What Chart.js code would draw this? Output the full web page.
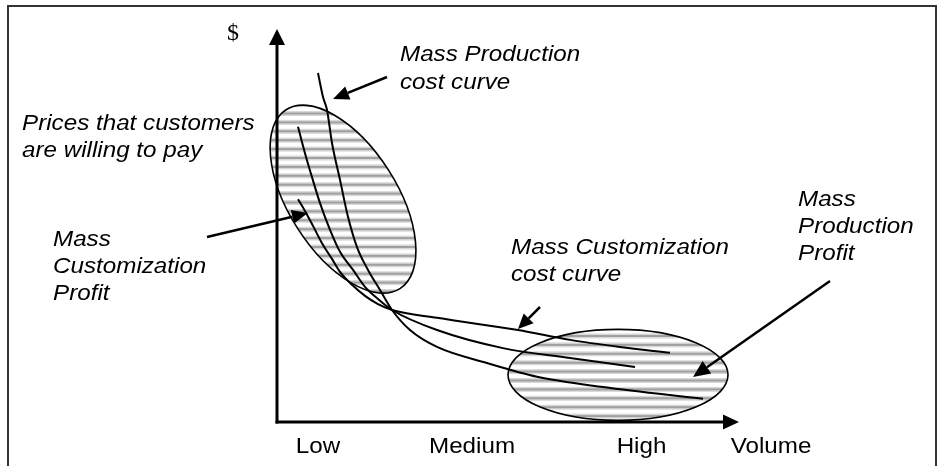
<!DOCTYPE html>
<html>
<head>
<meta charset="utf-8">
<script src="https://cdn.jsdelivr.net/npm/chart.js@4"></script>
<style>
  body { margin: 0; background: #fff; }
  #wrap { width: 940px; height: 466px; position: relative; }
</style>
</head>
<body>
<div id="wrap"><canvas id="mc_chart"></canvas></div>
<script>
// volume (x) and $ (y) values
const mpCostX = [0.889, 0.998, 1.085, 1.193, 1.367, 1.540, 1.735, 1.974, 2.234, 2.495, 2.885, 3.471, 4.555, 5.640, 7.072, 9.241];
const mpCostY = [8.88, 8.27, 7.94, 7.10, 6.16, 5.22, 4.45, 3.87, 3.36, 2.85, 2.34, 1.91, 1.50, 1.15, 0.89, 0.59];

const priceX = [0.456, 0.607, 0.759, 0.933, 1.150, 1.367, 1.649, 1.909, 2.191, 2.495, 3.471, 4.902, 6.356, 7.766];
const priceY = [7.51, 6.84, 6.23, 5.57, 4.89, 4.33, 3.87, 3.44, 3.13, 2.85, 2.34, 1.88, 1.63, 1.40];

const mcCostX = [0.456, 0.607, 0.781, 0.976, 1.193, 1.367, 1.627, 1.909, 2.191, 2.495, 3.471, 5.228, 6.356, 7.440, 8.525];
const mcCostY = [5.67, 5.37, 4.99, 4.55, 4.15, 3.82, 3.49, 3.21, 3.00, 2.85, 2.65, 2.34, 2.09, 1.91, 1.76];

// x axis labels
const tickValues = [0.889, 4.23, 7.907, 10.716];
const tickLabels = ['Low', 'Medium', 'High', 'Volume'];

// centres of the two profit zones (data units)
const profitZoneX = [1.432, 7.397];
const profitZoneY = [5.67, 1.20];

function pts(xs, ys) {
    return xs.map((x, i) => ({x: x, y: ys[i]}));
}

const ITALIC = 'italic 22px "Liberation Sans", Arial, sans-serif';
const PLAIN = '22px "Liberation Sans", Arial, sans-serif';

function stretchText(ctx, txt, x, y, font) {
    ctx.save();
    ctx.font = font;
    ctx.fillStyle = '#000';
    ctx.textBaseline = 'alphabetic';
    ctx.translate(x, y);
    ctx.scale(1.1, 1);
    ctx.fillText(txt, 0, 0);
    ctx.restore();
}

function arrow(ctx, x1, y1, x2, y2, len, half, width) {
    let ang = Math.atan2(y2 - y1, x2 - x1);
    let bx = x2 - len * Math.cos(ang), by = y2 - len * Math.sin(ang);
    ctx.save();
    ctx.strokeStyle = '#000';
    ctx.fillStyle = '#000';
    ctx.lineWidth = width;
    ctx.beginPath();
    ctx.moveTo(x1, y1);
    ctx.lineTo(bx, by);
    ctx.stroke();
    ctx.beginPath();
    ctx.moveTo(x2, y2);
    ctx.lineTo(bx + half * Math.sin(ang), by - half * Math.cos(ang));
    ctx.lineTo(bx - half * Math.sin(ang), by + half * Math.cos(ang));
    ctx.closePath();
    ctx.fill();
    ctx.restore();
}

function hatchedEllipse(ctx, cx, cy, rx, ry, rot) {
    ctx.save();
    ctx.beginPath();
    ctx.ellipse(cx, cy, rx, ry, rot, 0, Math.PI * 2);
    ctx.fillStyle = '#fff';
    ctx.fill();
    ctx.clip();
    for (let y = 336 - 8.9 * 30; y < 440; y += 8.9) {
        if (y < cy - 120 || y > cy + 120) continue;
        ctx.fillStyle = '#d8d8d8';
        ctx.fillRect(cx - 150, y - 2.5, 300, 5);
        ctx.fillStyle = '#a0a0a0';
        ctx.fillRect(cx - 150, y - 1, 300, 2);
    }
    ctx.restore();
    ctx.save();
    ctx.beginPath();
    ctx.ellipse(cx, cy, rx, ry, rot, 0, Math.PI * 2);
    ctx.strokeStyle = '#000';
    ctx.lineWidth = 1.6;
    ctx.stroke();
    ctx.restore();
}

const diagram = {
    id: 'diagram',
    beforeDraw(chart) {
        let ctx = chart.ctx;
        ctx.save();
        ctx.strokeStyle = '#333';
        ctx.lineWidth = 2;
        ctx.strokeRect(8, 6, 928, 480);
        ctx.restore();
    },
    beforeDatasetsDraw(chart) {
        let ctx = chart.ctx, xs = chart.scales.x, ys = chart.scales.y;
        hatchedEllipse(ctx, xs.getPixelForValue(profitZoneX[0]), ys.getPixelForValue(profitZoneY[0]), 106, 54, 57.5 * Math.PI / 180);
        hatchedEllipse(ctx, xs.getPixelForValue(profitZoneX[1]), ys.getPixelForValue(profitZoneY[1]), 110, 45.5, 0);
    },
    afterDatasetsDraw(chart) {
        let ctx = chart.ctx, xs = chart.scales.x, ys = chart.scales.y;
        let ox = xs.getPixelForValue(0), oy = ys.getPixelForValue(0);
        let top = ys.getPixelForValue(10), right = xs.getPixelForValue(10);

        // axes with arrow heads
        arrow(ctx, ox, oy + 1.5, ox, top, 16, 8, 3);
        arrow(ctx, ox - 1.5, oy, right + 1, oy, 16, 7.5, 3);

        // tick labels
        tickValues.forEach((v, i) => {
            ctx.save();
            ctx.font = PLAIN;
            let w = ctx.measureText(tickLabels[i]).width * 1.1;
            ctx.restore();
            stretchText(ctx, tickLabels[i], xs.getPixelForValue(v) - w / 2, 453, PLAIN);
        });

        ctx.save();
        ctx.font = '24px "Liberation Serif", "Times New Roman", serif';
        ctx.fillStyle = '#000';
        ctx.textAlign = 'center';
        ctx.fillText('$', 233, 40);
        ctx.restore();

        // callouts
        arrow(ctx, 387, 77, 333, 99, 16, 7, 2.5);
        arrow(ctx, 207, 237, 308, 213, 16, 7, 2.5);
        arrow(ctx, 540, 307, 518, 329, 15, 7, 2.5);
        arrow(ctx, 830, 281, 693, 377, 17, 7.5, 2.5);

        stretchText(ctx, 'Mass Production', 400, 61, ITALIC);
        stretchText(ctx, 'cost curve', 400, 89, ITALIC);
        stretchText(ctx, 'Prices that customers', 22, 130, ITALIC);
        stretchText(ctx, 'are willing to pay', 22, 157, ITALIC);
        stretchText(ctx, 'Mass', 53, 246, ITALIC);
        stretchText(ctx, 'Customization', 53, 273, ITALIC);
        stretchText(ctx, 'Profit', 53, 300, ITALIC);
        stretchText(ctx, 'Mass Customization', 511, 254, ITALIC);
        stretchText(ctx, 'cost curve', 511, 281, ITALIC);
        stretchText(ctx, 'Mass', 798, 206, ITALIC);
        stretchText(ctx, 'Production', 798, 233, ITALIC);
        stretchText(ctx, 'Profit', 798, 260, ITALIC);
    }
};

let mc_chart = document.getElementById('mc_chart').getContext('2d');
new Chart(mc_chart, {
    type: 'scatter',
    data: {
        datasets: [
            {
                label: 'Mass Production cost curve',
                data: pts(mpCostX, mpCostY),
                borderColor: '#000',
                backgroundColor: '#000',
            },
            {
                label: 'Prices that customers are willing to pay',
                data: pts(priceX, priceY),
                borderColor: '#000',
                backgroundColor: '#000',
            },
            {
                label: 'Mass Customization cost curve',
                data: pts(mcCostX, mcCostY),
                borderColor: '#000',
                backgroundColor: '#000',
            }
        ],
    },
    options: {
        animation: false,
        responsive: true,
        maintainAspectRatio: false,
        layout: {
            padding: {left: 277, right: 202, top: 29, bottom: 44}
        },
        elements: {
            line: {borderWidth: 2, cubicInterpolationMode: 'monotone'},
            point: {radius: 0, hoverRadius: 0}
        },
        datasets: {
            scatter: {showLine: true, clip: false}
        },
        scales: {
            x: {type: 'linear', min: 0, max: 10, display: false},
            y: {type: 'linear', min: 0, max: 10, display: false}
        },
        plugins: {
            legend: {display: false},
            tooltip: {enabled: false}
        }
    },
    plugins: [diagram]
});
</script>
</body>
</html>
